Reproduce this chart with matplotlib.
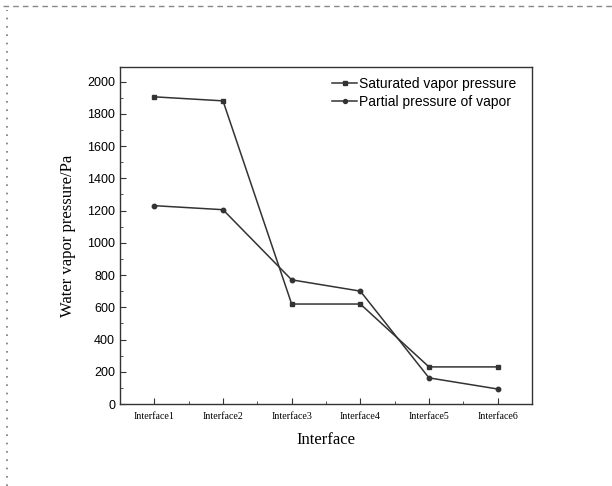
import matplotlib
matplotlib.use("Agg")
import matplotlib.pyplot as plt
from matplotlib.lines import Line2D
from matplotlib.ticker import MultipleLocator

categories = ["Interface1", "Interface2", "Interface3", "Interface4", "Interface5", "Interface6"]
saturated = [1905, 1880, 620, 620, 230, 230]
partial = [1230, 1205, 770, 700, 162, 93]

fig = plt.figure(figsize=(6.12, 4.86), dpi=100)
ax = fig.add_axes([120/612, 1-404/486, (532-120)/612, (404-67)/486])

x = list(range(1, len(categories) + 1))
ax.plot(x, saturated, color="#333333", lw=1.1, marker="s", ms=3.2, label="Saturated vapor pressure")
ax.plot(x, partial, color="#333333", lw=1.1, marker="o", ms=3.2, label="Partial pressure of vapor")

ax.set_xlim(0.5, 6.5)
ax.set_ylim(0, 2090)
ax.yaxis.set_major_locator(MultipleLocator(200))
ax.yaxis.set_minor_locator(MultipleLocator(100))
ax.set_xticks(x)
ax.set_xticklabels(categories, family="Liberation Serif", fontsize=7.2)
ax.set_xticks([i + 0.5 for i in x[:-1]], minor=True)
ax.tick_params(which="both", direction="in", top=False, right=False, color="#333333")
ax.tick_params(which="major", length=4)
ax.tick_params(which="minor", length=2)
ax.tick_params(axis="x", pad=6)
for lbl in ax.get_yticklabels():
    lbl.set_family("Liberation Sans")
    lbl.set_fontsize(9)
for s in ax.spines.values():
    s.set_color("#333333")
    s.set_linewidth(1.0)

ax.set_ylabel("Water vapor pressure/Pa", family="Liberation Serif", fontsize=12, labelpad=8)
ax.set_xlabel("Interface", family="Liberation Serif", fontsize=12, labelpad=8)

ax.legend(loc="upper right", frameon=False, prop={"family": "Liberation Sans", "size": 10},
          handlelength=1.8, handletextpad=0.1, borderaxespad=0.3, labelspacing=0.3,
          markerscale=0.9, bbox_to_anchor=(0.985, 1.0))

# decorative page border
fig.add_artist(Line2D([0.005, 1.0], [1-6/486, 1-6/486], transform=fig.transFigure,
                      color="#888888", lw=1, ls=(0, (4, 3))))
fig.add_artist(Line2D([7/612, 7/612], [0.0, 1-10/486], transform=fig.transFigure,
                      color="#777777", lw=1.2, ls=(0, (1, 4))))

fig.savefig("out.png", dpi=100)
